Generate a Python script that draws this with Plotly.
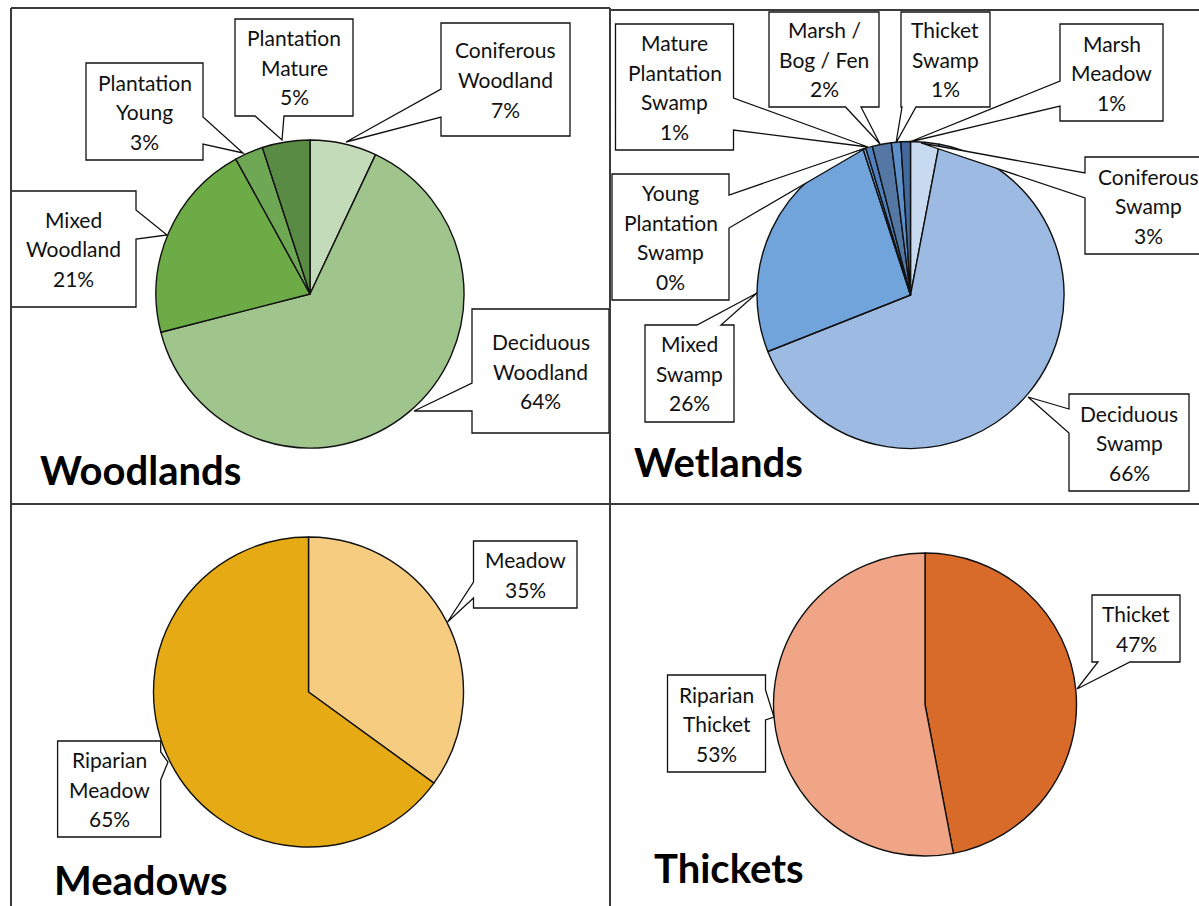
import plotly.graph_objects as go

W, H = 1199, 906

# ---------------- data ----------------
wood_labels = ["Coniferous\nWoodland", "Deciduous\nWoodland", "Mixed\nWoodland",
               "Plantation\nYoung", "Plantation\nMature"]
wood_values = [7, 64, 21, 3, 5]

wet_labels = ["Coniferous\nSwamp", "Deciduous\nSwamp", "Mixed\nSwamp",
              "Young\nPlantation\nSwamp", "Mature\nPlantation\nSwamp",
              "Marsh /\nBog / Fen", "Thicket\nSwamp", "Marsh\nMeadow"]
wet_values = [3, 66, 26, 0.3, 0.7, 2, 1, 1]

meadow_labels = ["Meadow", "Riparian\nMeadow"]
meadow_values = [35, 65]

thicket_labels = ["Thicket", "Riparian\nThicket"]
thicket_values = [47, 53]

titles = ["Woodlands", "Wetlands", "Meadows", "Thickets"]

# ---------------- styling / layout ----------------
wood_colors = ["#c4dbb9", "#9fc48c", "#6cab46", "#6fa854", "#5a8b45"]
wet_colors = ["#c8daf0", "#9dbbe2", "#72a4dc", "#6a9bd0", "#4f80bd",
              "#5577a3", "#5d8fc9", "#44699c"]
meadow_colors = ["#f6cd80", "#e6aa14"]
thicket_colors = ["#d96b2a", "#f0a587"]

# pie centre (px) and radius (px)
pie_geom = [(310, 294, 154), (910.5, 295, 153.5), (308.5, 692, 155), (925, 704.5, 151.5)]

# callouts: box (x0, y0, x1, y1), side of pointer, pointer base points, tip
wood_callouts = [
    dict(box=(441, 23, 570, 136), side="left", base=((441, 117), (441, 89)), tip=(346, 142)),
    dict(box=(472, 309, 609, 433), side="left", base=((472, 411), (472, 383)), tip=(414, 411)),
    dict(box=(11, 191, 136, 307), side="right", base=((136, 210), (136, 239)), tip=(167, 235)),
    dict(box=(86, 63, 203, 160), side="right", base=((203, 117), (203, 144)), tip=(243, 153)),
    dict(box=(235, 19, 353, 116), side="bottom", base=((284, 116), (255, 116)), tip=(282, 140)),
]
wet_callouts = [
    dict(box=(1085, 157, 1212, 254), side="left", base=((1085, 198), (1085, 173)), tip=(921, 143)),
    dict(box=(1069, 394, 1189, 491), side="left", base=((1069, 433), (1069, 409)), tip=(1028, 397)),
    dict(box=(645, 325, 734, 422), side="top", base=((697, 325), (721, 325)), tip=(757, 293)),
    dict(box=(612, 174, 729, 300), side="right", base=((729, 195), (729, 228)), tip=(866, 148)),
    dict(box=(615.5, 24, 733.5, 150), side="right", base=((733.5, 98), (733.5, 130)), tip=(868, 147)),
    dict(box=(769, 12, 879, 107), side="bottom", base=((861, 107), (845.5, 107)), tip=(880, 144)),
    dict(box=(901, 12, 990, 107), side="bottom", base=((916, 107), (902, 107)), tip=(896, 143)),
    dict(box=(1060, 24, 1163, 121), side="left", base=((1060, 106), (1060, 81)), tip=(909.5, 142)),
]
meadow_callouts = [
    dict(box=(473.5, 541, 577, 608), side="left", base=((473.5, 598), (473.5, 582)), tip=(447.5, 622)),
    dict(box=(57.6, 741, 160.7, 837), side="right", base=((160.7, 752), (160.7, 780)), tip=(168, 762)),
]
thicket_callouts = [
    dict(box=(1092, 595, 1180, 662), side="bottom", base=((1130, 662), (1098, 662)), tip=(1077, 689)),
    dict(box=(667.5, 675, 765.5, 772), side="right", base=((765.5, 690), (765.5, 720)), tip=(774, 717)),
]

title_pos = [(38, 470), (632, 462), (52, 880), (652, 868)]

LABEL_FONT = "Lato"
LABEL_SIZE = 21
TITLE_SIZE = 40
LINE_GAP = 29.5


def px(x):
    return x / W


def py(y):
    return 1 - y / H


def callout_path(box, side, base, tip):
    x0, y0, x1, y1 = box
    TL, TR, BR, BL = (x0, y0), (x1, y0), (x1, y1), (x0, y1)
    b1, b2 = base
    if side == "top":
        pts = [TL, b1, tip, b2, TR, BR, BL]
    elif side == "right":
        pts = [TL, TR, b1, tip, b2, BR, BL]
    elif side == "bottom":
        pts = [TL, TR, BR, b1, tip, b2, BL]
    else:
        pts = [TL, TR, BR, BL, b1, tip, b2]
    d = "M " + " L ".join(f"{px(x):.6f},{py(y):.6f}" for x, y in pts) + " Z"
    return d


fig = go.Figure()
shapes = []
annotations = []

charts = [
    (wood_labels, wood_values, wood_colors, wood_callouts),
    (wet_labels, wet_values, wet_colors, wet_callouts),
    (meadow_labels, meadow_values, meadow_colors, meadow_callouts),
    (thicket_labels, thicket_values, thicket_colors, thicket_callouts),
]

for (labels, values, colors, callouts), (cx, cy, r), title, tpos in zip(charts, pie_geom, titles, title_pos):
    fig.add_trace(go.Pie(
        labels=[l.replace("\n", " ") for l in labels],
        values=values,
        sort=False,
        direction="clockwise",
        rotation=0,
        textinfo="none",
        hoverinfo="label+percent",
        marker=dict(colors=colors, line=dict(color="#111111", width=1.4)),
        domain=dict(x=[px(cx - r), px(cx + r)], y=[py(cy + r), py(cy - r)]),
        showlegend=False,
    ))
    total = sum(values)
    for lab, val, co in zip(labels, values, callouts):
        shapes.append(dict(type="path", xref="paper", yref="paper",
                           path=callout_path(co["box"], co["side"], co["base"], co["tip"]),
                           fillcolor="white", line=dict(color="#111111", width=1.3),
                           layer="above"))
        lines = lab.split("\n") + [f"{val / total * 100:.0f}%"]
        x0, y0, x1, y1 = co["box"]
        xc, yc = (x0 + x1) / 2, (y0 + y1) / 2
        n = len(lines)
        for i, t in enumerate(lines):
            yy = yc + (i - (n - 1) / 2) * LINE_GAP
            annotations.append(dict(x=px(xc), y=py(yy), xref="paper", yref="paper",
                                    text=t, showarrow=False, xanchor="center", yanchor="middle",
                                    font=dict(family=LABEL_FONT, size=LABEL_SIZE, color="#111111")))
    annotations.append(dict(x=px(tpos[0]), y=py(tpos[1]), xref="paper", yref="paper",
                            text=title, showarrow=False, xanchor="left", yanchor="middle",
                            font=dict(family=LABEL_FONT, size=TITLE_SIZE, color="#000000", weight="bold")))

# panel borders
border = dict(color="#3a3a3a", width=2)
for (xa, ya, xb, yb) in [(11, 8, 610, 8), (610, 10, 1199, 10), (11, 504, 1199, 504),
                         (11, 8, 11, 906), (610, 8, 610, 906)]:
    shapes.append(dict(type="line", xref="paper", yref="paper",
                       x0=px(xa), y0=py(ya), x1=px(xb), y1=py(yb), line=border, layer="above"))

fig.update_layout(
    width=W, height=H, autosize=False,
    margin=dict(l=0, r=0, t=0, b=0),
    paper_bgcolor="white", plot_bgcolor="white",
    shapes=shapes, annotations=annotations,
)

fig.write_html("out.html",
               config={"displayModeBar": False},
               post_script="document.body.style.margin='0px';document.body.style.overflow='hidden';")
